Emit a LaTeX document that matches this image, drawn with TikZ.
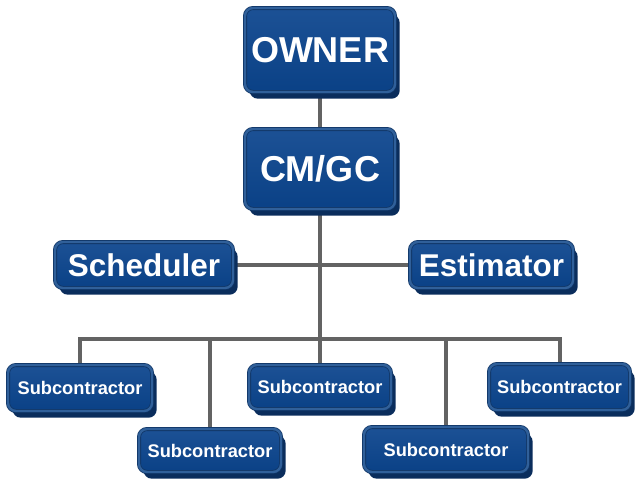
\documentclass[tikz,border=0pt]{standalone}
\usepackage{fontspec}
\setmainfont{Liberation Sans}
\usetikzlibrary{shadows,backgrounds}
\definecolor{rimdark}{HTML}{0F3566}
\definecolor{rimband}{HTML}{30609A}
\definecolor{facetop}{HTML}{1C5195}
\definecolor{facemid}{HTML}{0C4A8E}
\definecolor{facebot}{HTML}{0A4186}
\definecolor{shd}{HTML}{0A2D5C}
\definecolor{wire}{HTML}{636363}
\tikzset{
  orgbox/.style={rectangle, rounded corners=6pt,
    draw=rimdark, double=rimband, line width=0.6pt, double distance=1.8pt,
    top color=facetop, middle color=facemid, bottom color=facebot,
    general shadow={fill=shd, shadow xshift=3.5pt, shadow yshift=-5pt},
    text=white, inner sep=0pt},
  boxsize/.style n args={2}{minimum width={#1*0.75pt}, minimum height={#2*0.75pt}},
  bigtxt/.style={font=\bfseries\fontsize{27}{30}\selectfont},
  midtxt/.style={font=\bfseries\fontsize{23.6}{27}\selectfont},
  smalltxt/.style={font=\bfseries\fontsize{13.7}{16}\selectfont},
  wireline/.style={draw=wire, line width=3pt}
}
\begin{document}
\begin{tikzpicture}[x=0.75pt,y=-0.75pt]
\useasboundingbox (0,0) rectangle (636,479);
\node[orgbox, boxsize={150}{84}, bigtxt] (owner) at (320,50) {OWNER};
\node[orgbox, boxsize={150}{80}, bigtxt] (cmgc) at (320,169) {CM/GC};
\node[orgbox, boxsize={178}{46}, midtxt] (sched) at (144,265) {Scheduler};
\node[orgbox, boxsize={163}{46}, midtxt] (estim) at (491.5,265) {Estimator};
\node[orgbox, boxsize={144}{46}, smalltxt] (sub1) at (80,388) {Subcontractor};
\node[orgbox, boxsize={142}{43}, smalltxt] (sub2) at (210,450.5) {Subcontractor};
\node[orgbox, boxsize={142}{44}, smalltxt] (sub3) at (320,387) {Subcontractor};
\node[orgbox, boxsize={164}{45}, smalltxt] (sub4) at (446,449.5) {Subcontractor};
\node[orgbox, boxsize={141}{46}, smalltxt] (sub5) at (559.5,387) {Subcontractor};
\coordinate (bus) at (317,339);
\begin{scope}[on background layer]
\draw[wireline] (owner.south) -- (cmgc.north);
\draw[wireline] (cmgc.south) -- (cmgc.south |- bus);
\draw[wireline] (sched.east) -- (estim.west);
\draw[wireline] (sub1.north) -- (sub1.north |- bus) -- (sub5.north |- bus) -- (sub5.north);
\draw[wireline] (sub2.north) -- (sub2.north |- bus);
\draw[wireline] (sub3.north) -- (sub3.north |- bus);
\draw[wireline] (sub4.north) -- (sub4.north |- bus);
\end{scope}
\end{tikzpicture}
\end{document}
